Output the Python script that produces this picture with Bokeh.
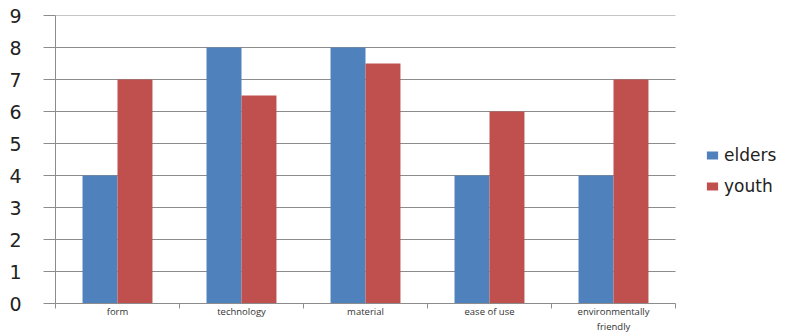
from bokeh.plotting import figure
from bokeh.models import FixedTicker, Range1d, Legend, LegendItem
from bokeh.embed import file_html
from bokeh.resources import INLINE

categories = ["form", "technology", "material", "ease of use", "environmentally\nfriendly"]
elders = [4, 8, 8, 4, 4]
youth = [7, 6.5, 7.5, 6, 7]
y_ticks = [0, 1, 2, 3, 4, 5, 6, 7, 8, 9]

BLUE = "#4F81BD"
RED = "#C0504D"
GRID = "#8C8C8C"

W, H = 806, 336
LEFT, TOP, BOTTOM = 55, 15, 33
PX_PER_CAT = 124  # horizontal pixels per category

n = len(categories)
centers = [i + 0.5 for i in range(n)]
bounds = [float(i) for i in range(n + 1)]
bar_w = 0.282

# the frame runs to the right edge so the legend can live inside it
x_end = (W - LEFT) / PX_PER_CAT

p = figure(width=W, height=H, output_backend="svg", toolbar_location=None,
           x_range=Range1d(0, x_end), y_range=Range1d(0, 9),
           min_border_left=LEFT, min_border_right=0, min_border_top=TOP,
           min_border_bottom=BOTTOM)
p.outline_line_color = None
p.background_fill_color = "white"

# horizontal grid lines limited to the category span
p.ygrid.grid_line_color = None
p.xgrid.grid_line_color = None
p.segment(x0=0, x1=n, y0=y_ticks[1:], y1=y_ticks[1:], line_color=GRID, line_width=1)

r_el = p.vbar(x=[c - bar_w / 2 for c in centers], top=elders, width=bar_w, bottom=0,
              fill_color=BLUE, line_color=None)
r_yo = p.vbar(x=[c + bar_w / 2 for c in centers], top=youth, width=bar_w, bottom=0,
              fill_color=RED, line_color=None)

# y axis: integer ticks with outward marks joining the grid lines
p.yaxis.ticker = FixedTicker(ticks=y_ticks)
p.yaxis.axis_line_color = GRID
p.yaxis.major_tick_line_color = GRID
p.yaxis.major_tick_out = 12
p.yaxis.major_tick_in = 0
p.yaxis.minor_tick_line_color = None
p.yaxis.major_label_text_font = "DejaVu Sans"
p.yaxis.major_label_text_font_size = "19px"
p.yaxis.major_label_text_color = "#222222"
p.yaxis.major_label_standoff = 22

# x axis: labels at category centres, small ticks at category boundaries
p.xaxis.bounds = (0, n)
p.xaxis.ticker = FixedTicker(ticks=centers, minor_ticks=bounds)
p.xaxis.major_label_overrides = {c: lab for c, lab in zip(centers, categories)}
p.xaxis.major_tick_line_color = None
p.xaxis.major_tick_out = 0
p.xaxis.major_tick_in = 0
p.xaxis.minor_tick_line_color = GRID
p.xaxis.minor_tick_out = 5
p.xaxis.minor_tick_in = 0
p.xaxis.axis_line_color = GRID
p.xaxis.major_label_text_font = "Open Sans"
p.xaxis.major_label_text_font_size = "9.5px"
p.xaxis.major_label_text_color = "#333333"
p.xaxis.major_label_standoff = -4

legend = Legend(items=[LegendItem(label="elders", renderers=[r_el]),
                       LegendItem(label="youth", renderers=[r_yo])],
                location=(650, 107), border_line_color=None, background_fill_alpha=0,
                glyph_width=14, glyph_height=10, label_standoff=5,
                label_text_font="DejaVu Sans", label_text_font_size="17px",
                label_text_color="#222222", label_height=20, spacing=11,
                padding=0, margin=0)
p.add_layout(legend)

open("out.html", "w").write(file_html(p, INLINE))
